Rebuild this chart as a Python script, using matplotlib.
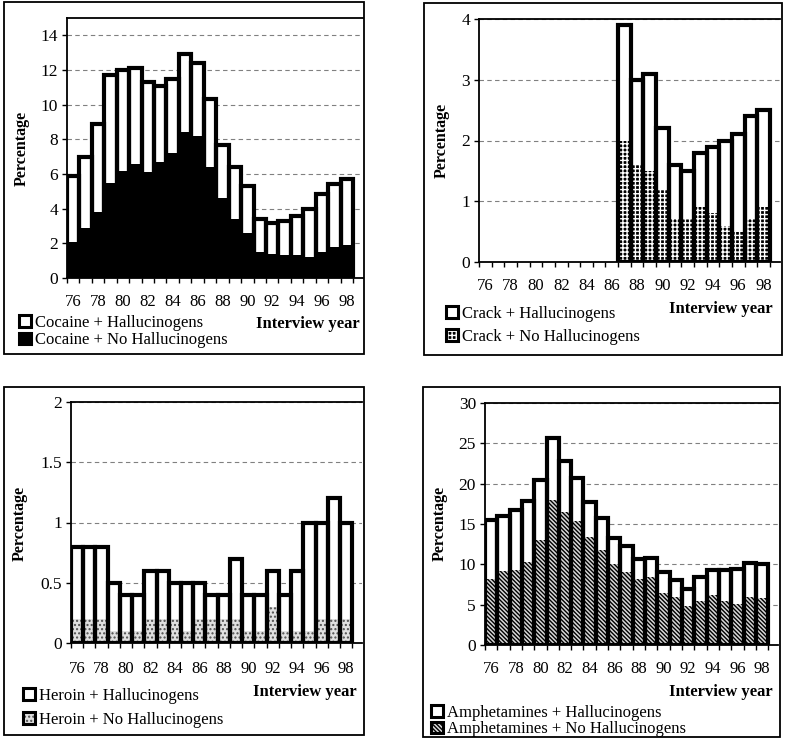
import numpy as np
import matplotlib
matplotlib.use('Agg')
import matplotlib.pyplot as plt
from matplotlib.patches import Patch, Rectangle
from matplotlib.legend_handler import HandlerTuple

plt.rcParams['font.family'] = ['Liberation Serif', 'DejaVu Serif']
plt.rcParams['hatch.linewidth'] = 1.0

# ---------------- data ----------------
years = ['76', '77', '78', '79', '80', '81', '82', '83', '84', '85', '86', '87',
         '88', '89', '90', '91', '92', '93', '94', '95', '96', '97', '98']

cocaine_total = [5.9, 7.0, 8.9, 11.7, 12.0, 12.1, 11.3, 11.1, 11.5, 12.9, 12.4, 10.3,
                 7.7, 6.4, 5.3, 3.4, 3.2, 3.3, 3.6, 4.0, 4.85, 5.4, 5.7]
cocaine_nohall = [2.1, 2.9, 3.8, 5.5, 6.15, 6.6, 6.1, 6.7, 7.2, 8.4, 8.2, 6.4,
                  4.6, 3.4, 2.6, 1.5, 1.4, 1.3, 1.3, 1.2, 1.5, 1.8, 1.9]

crack_total = [None] * 11 + [3.9, 3.0, 3.1, 2.2, 1.6, 1.5, 1.8, 1.9, 2.0, 2.1, 2.4, 2.5]
crack_nohall = [None] * 11 + [2.0, 1.6, 1.5, 1.2, 0.7, 0.7, 0.9, 0.8, 0.6, 0.5, 0.7, 0.9]

heroin_total = [0.8, 0.8, 0.8, 0.5, 0.4, 0.4, 0.6, 0.6, 0.5, 0.5, 0.5, 0.4,
                0.4, 0.7, 0.4, 0.4, 0.6, 0.4, 0.6, 1.0, 1.0, 1.2, 1.0]
heroin_nohall = [0.2, 0.2, 0.2, 0.1, 0.1, 0.1, 0.2, 0.2, 0.2, 0.1, 0.2, 0.2,
                 0.2, 0.2, 0.1, 0.1, 0.3, 0.1, 0.1, 0.1, 0.2, 0.2, 0.2]

amph_total = [15.5, 16.0, 16.7, 17.9, 20.5, 25.7, 22.8, 20.7, 17.7, 15.7, 13.3, 12.3,
              10.6, 10.8, 9.0, 8.1, 6.9, 8.4, 9.3, 9.3, 9.4, 10.2, 10.1]
amph_nohall = [8.2, 9.2, 9.3, 10.3, 13.0, 18.0, 16.5, 15.4, 13.4, 11.8, 10.0, 9.1,
               8.2, 8.4, 6.4, 5.9, 4.8, 5.4, 6.2, 5.4, 5.1, 5.9, 5.8]

cocaine_labels = ['Cocaine + Hallucinogens', 'Cocaine + No Hallucinogens']
crack_labels = ['Crack + Hallucinogens', 'Crack + No Hallucinogens']
heroin_labels = ['Heroin + Hallucinogens', 'Heroin + No Hallucinogens']
amph_labels = ['Amphetamines + Hallucinogens', 'Amphetamines + No Hallucinogens']

cocaine_yticks = [0, 2, 4, 6, 8, 10, 12, 14]
crack_yticks = [0, 1, 2, 3, 4]
heroin_yticks = [0, 0.5, 1, 1.5, 2]
heroin_yticklabels = ['0', '0.5', '1', '1.5', '2']
amph_yticks = [0, 5, 10, 15, 20, 25, 30]

# ---------------- layout ----------------
W, H = 786, 741
fig = plt.figure(figsize=(W / 100, H / 100), dpi=100)


def fx(x):
    return x / W


def fy(y):
    return 1 - y / H


panels = [
    dict(total=cocaine_total, nohall=cocaine_nohall, labels=cocaine_labels,
         face='black', hcol='black', hatch=None,
         ylim=(0, 15), yticks=cocaine_yticks, yticklabels=None,
         axbox=(67, 18, 363, 278), frame=(4, 2, 364, 354), xpad=11.5,
         ylab=(22, 148), xlab=(360, 324), leg=(19, 315), lspace=0.08),
    dict(total=crack_total, nohall=crack_nohall, labels=crack_labels,
         face='black', hcol='white', hatch='++++',
         ylim=(0, 4), yticks=crack_yticks, yticklabels=None,
         axbox=(479, 19, 780, 262), frame=(424, 3, 782, 355), xpad=11.5,
         ylab=(442, 140), xlab=(773, 309), leg=(446, 306), lspace=0.4),
    dict(total=heroin_total, nohall=heroin_nohall, labels=heroin_labels,
         face='#e0e0e0', hcol='#505050', hatch='....',
         ylim=(0, 2), yticks=heroin_yticks, yticklabels=heroin_yticklabels,
         axbox=(71, 402, 362, 643), frame=(4, 387, 364, 735), xpad=13,
         ylab=(20, 523), xlab=(357, 692), leg=(23, 688), lspace=0.45),
    dict(total=amph_total, nohall=amph_nohall, labels=amph_labels,
         face='#d8d8d8', hcol='black', hatch='\\' * 8,
         ylim=(0, 30), yticks=amph_yticks, yticklabels=None,
         axbox=(485, 403, 778, 645), frame=(423, 387, 780, 737), xpad=11.5,
         ylab=(440, 523), xlab=(773, 692), leg=(431, 705), lspace=0.02),
]

x = np.arange(len(years))

for p in panels:
    l, t, r, b = p['axbox']
    ax = fig.add_axes([fx(l), fy(b), fx(r - l), (b - t) / H])
    tot = np.array(p['total'], dtype=float)
    nh = np.array(p['nohall'], dtype=float)

    ax.bar(x, nh, width=1.0, color=p['face'], edgecolor=p['hcol'],
           hatch=p['hatch'], linewidth=0, zorder=2)
    ax.bar(x, tot - nh, bottom=nh, width=1.0, color='white', linewidth=0, zorder=2)
    ax.bar(x, tot, width=1.0, fill=False, edgecolor='black', linewidth=3.0, zorder=3)

    ax.set_xlim(-0.5, 23.3)
    ax.set_ylim(*p['ylim'])
    ax.set_yticks(p['yticks'])
    if p['yticklabels'] is not None:
        ax.set_yticklabels(p['yticklabels'])
    ax.set_xticks(x[::2])
    ax.set_xticklabels(years[::2])
    ax.set_xticks(np.arange(-0.5, 23, 1.0), minor=True)
    ax.tick_params(axis='x', which='major', length=0, pad=p['xpad'], labelsize=12)
    ax.tick_params(axis='x', which='minor', length=3.5, width=1.0, direction='out')
    ax.tick_params(axis='y', length=3.5, width=1.0, direction='out', pad=3, labelsize=12.5)

    ax.yaxis.grid(True, linestyle=(0, (4, 3)), color='#808080', linewidth=0.8)
    ax.set_axisbelow(True)
    for s in ['left', 'bottom', 'top']:
        ax.spines[s].set_linewidth(1.3)
        ax.spines[s].set_color('black')
    ax.spines['right'].set_visible(False)

    fig.text(fx(p['ylab'][0]), fy(p['ylab'][1]), 'Percentage', rotation=90,
             ha='center', va='center', fontsize=11.5, fontweight='bold')
    fig.text(fx(p['xlab'][0]), fy(p['xlab'][1]), 'Interview year',
             ha='right', va='center', fontsize=12, fontweight='bold')

    h1 = Patch(facecolor='white', edgecolor='black', linewidth=2.2)
    h2 = (Patch(facecolor=p['face'], edgecolor=p['hcol'], hatch=p['hatch'], linewidth=0),
          Patch(fill=False, edgecolor='black', linewidth=2.2))
    fig.legend(handles=[h1, h2], labels=p['labels'], loc='upper left',
               bbox_to_anchor=(fx(p['leg'][0]), fy(p['leg'][1])),
               bbox_transform=fig.transFigure, frameon=False, borderpad=0,
               borderaxespad=0, handlelength=0.7, handleheight=0.7,
               handletextpad=0.25, labelspacing=p['lspace'], fontsize=12,
               handler_map={tuple: HandlerTuple(ndivide=1, pad=0)})

    x0, y0, x1, y1 = p['frame']
    fig.add_artist(Rectangle((fx(x0), fy(y1)), (x1 - x0) / W, (y1 - y0) / H,
                             transform=fig.transFigure, fill=False,
                             edgecolor='black', linewidth=1.3))

fig.savefig('out.png', dpi=100)
